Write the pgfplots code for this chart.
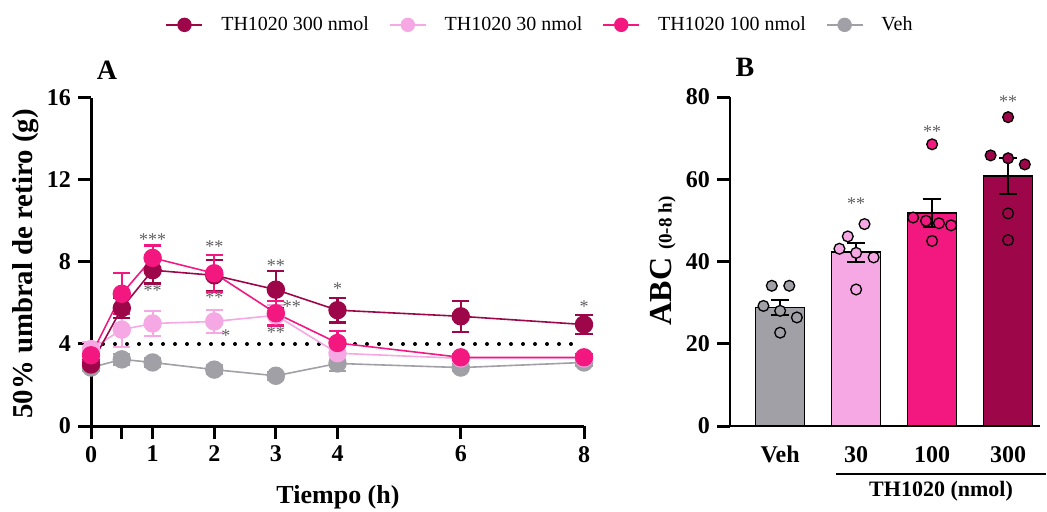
\documentclass[border=0pt]{standalone}
\usepackage{fontspec}
\setmainfont{Liberation Serif}
\usepackage{pgfplots}
\pgfplotsset{compat=1.18}

\definecolor{cHi}{RGB}{158,6,74}
\definecolor{cLo}{RGB}{245,168,228}
\definecolor{cMid}{RGB}{243,24,128}
\definecolor{cVeh}{RGB}{160,160,166}
\definecolor{cStar}{RGB}{95,95,95}

\pgfplotsset{
  ser/.style={color=#1, line width=0.8pt, mark=*, mark size=4.2pt,
    mark options={solid, fill=#1, draw=#1},
    /pgfplots/error bars/y dir=both, /pgfplots/error bars/y explicit,
    /pgfplots/error bars/error bar style={line width=1.1pt, color=#1},
    /pgfplots/error bars/error mark options={rotate=90, mark size=4.3pt, line width=1.1pt, color=#1}},
  dots/.style={only marks, mark=*, mark size=2.7pt, mark options={fill=#1, draw=black, line width=0.65pt}},
  gpad/.style={
    scale only axis, clip=false,
    axis lines=left, axis line style={-, line width=1.5pt},
    tick align=outside, major tick length=6.5pt,
    every tick/.style={black, line width=1.5pt},
    tick label style={font=\bfseries\fontsize{12}{12}\selectfont},
    /pgf/number format/assume math mode=true,
  },
}
\tikzset{starlab/.style={font=\fontsize{9}{9}\selectfont, text=cStar, inner sep=0pt}}

\begin{document}
\begin{tikzpicture}
\path[use as bounding box] (0,0) rectangle (523.5pt,-256pt);

% ---------- panel A ----------
\begin{axis}[gpad,
  at={(45.5pt,-213pt)}, anchor=south west,
  width=246.5pt, height=164pt,
  xmin=0, xmax=8, ymin=0, ymax=16,
  ytick={0,4,8,12,16},
  xtick={0,0.5,1,2,3,4,6,8}, xticklabels={0,,1,2,3,4,6,8},
  legend style={at={(0.913,1.223)}, anchor=center, draw=none, fill=none,
    legend columns=4, font=\fontsize{10}{12}\selectfont,
    /tikz/every odd column/.append style={column sep=7pt},
    /tikz/every even column/.append style={column sep=8pt}},
  legend image code/.code={\draw[mark repeat=2, mark phase=2, #1, mark size=3.2pt]
    plot coordinates {(0pt,0pt) (9pt,0pt) (18pt,0pt)};},
]
\addplot[forget plot, line width=2pt, dash pattern=on 0pt off 6pt, line cap=round]
  coordinates {(0,4) (7.94,4)};

\addplot[ser=cVeh, forget plot] coordinates {
  (0,2.85) +- (0,0.15) (0.5,3.25) +- (0,0.25) (1,3.1) +- (0,0.2)
  (2,2.75) +- (0,0.2) (3,2.45) +- (0,0.2) (4,3.05) +- (0,0.35)
  (6,2.85) +- (0,0.15) (8,3.1) +- (0,0.15)};
\addplot[ser=cLo, forget plot] coordinates {
  (0,3.75) +- (0,0.35) (0.5,4.7) +- (0,0.85) (1,5.0) +- (0,0.6)
  (2,5.1) +- (0,0.55) (3,5.4) +- (0,0.5) (4,3.55) +- (0,0.3)
  (6,3.3) +- (0,0.15) (8,3.3) +- (0,0.15)};
\addplot[ser=cHi, forget plot] coordinates {
  (0,3.0) +- (0,0.2) (0.5,5.75) +- (0,0.5) (1,7.6) +- (0,0.65)
  (2,7.35) +- (0,0.75) (3,6.65) +- (0,0.9) (4,5.65) +- (0,0.6)
  (6,5.35) +- (0,0.75) (8,4.95) +- (0,0.45)};
\addplot[ser=cMid, forget plot] coordinates {
  (0,3.45) +- (0,0.3) (0.5,6.45) +- (0,1.0) (1,8.2) +- (0,0.6)
  (2,7.45) +- (0,0.9) (3,5.5) +- (0,0.6) (4,4.05) +- (0,0.6)
  (6,3.35) +- (0,0.15) (8,3.35) +- (0,0.15)};

\addlegendimage{color=cHi, line width=0.8pt, mark=*, mark options={fill=cHi}}
\addlegendentry{TH1020 300 nmol}
\addlegendimage{color=cLo, line width=0.8pt, mark=*, mark options={fill=cLo}}
\addlegendentry{TH1020 30 nmol}
\addlegendimage{color=cMid, line width=0.8pt, mark=*, mark options={fill=cMid}}
\addlegendentry{TH1020 100 nmol}
\addlegendimage{color=cVeh, line width=0.8pt, mark=*, mark options={fill=cVeh}}
\addlegendentry{Veh}

\node[starlab] at (axis cs:1,9.1) {***};
\node[starlab] at (axis cs:1,6.6) {**};
\node[starlab] at (axis cs:2,8.75) {**};
\node[starlab] at (axis cs:2,6.25) {**};
\node[starlab] at (axis cs:2.19,4.4) {*};
\node[starlab] at (axis cs:3,7.8) {**};
\node[starlab] at (axis cs:3.26,5.8) {**};
\node[starlab] at (axis cs:3,4.55) {**};
\node[starlab] at (axis cs:4,6.7) {*};
\node[starlab] at (axis cs:8,5.8) {*};
\end{axis}

% ---------- panel B ----------
\begin{axis}[gpad,
  at={(365pt,-213pt)}, anchor=south west,
  width=155pt, height=164.5pt,
  xmin=-0.66, xmax=3.42, ymin=0, ymax=80,
  ytick={0,20,40,60,80},
  xtick={0,1,2,3}, xticklabels={Veh,30,100,300},
  x tick style={draw=none},
  axis line style={-, line width=1.25pt},
]
\addplot[ybar, bar width=24.5pt, bar shift=0pt, fill=cVeh, draw=black, line width=0.7pt] coordinates {(0,28.8)};
\addplot[ybar, bar width=24.5pt, bar shift=0pt, fill=cLo, draw=black, line width=0.7pt] coordinates {(1,42.3)};
\addplot[ybar, bar width=24.5pt, bar shift=0pt, fill=cMid, draw=black, line width=0.7pt] coordinates {(2,51.8)};
\addplot[ybar, bar width=24.5pt, bar shift=0pt, fill=cHi, draw=black, line width=0.7pt] coordinates {(3,60.8)};

\addplot[dots=cVeh] coordinates {(-0.11,34.1) (0.12,34.1) (-0.22,29.2) (0,28.0) (0.22,26.4) (0,22.7)};
\addplot[dots=cLo] coordinates {(0.89,46.1) (1.11,49.1) (0.78,43.1) (1,42.1) (1.23,41.0) (1,33.2)};
\addplot[dots=cMid] coordinates {(2,68.5) (1.75,50.7) (1.92,49.9) (2.09,49.3) (2.25,48.8) (2,45.0)};
\addplot[dots=cHi] coordinates {(3,75.1) (2.77,65.8) (3,65.1) (3.22,63.6) (3,51.7) (3,45.2)};

\addplot[draw=none, mark=none, error bars/.cd, y dir=both, y explicit,
  error bar style={draw=black, line width=1pt},
  error mark options={rotate=90, mark size=4.5pt, draw=black, line width=1pt}]
  coordinates {(0,28.8) +- (0,1.9) (1,42.3) +- (0,2.3) (2,51.8) +- (0,3.4) (3,60.8) +- (0,4.4)};

\node[starlab] at (axis cs:1,54) {**};
\node[starlab] at (axis cs:2,71.5) {**};
\node[starlab] at (axis cs:3,78.8) {**};
\end{axis}

% ---------- labels ----------
\node[rotate=90, font=\bfseries\fontsize{14.4}{14.4}\selectfont] at (13pt,-132pt) {50\% umbral de retiro (g)};
\node[font=\bfseries\fontsize{13}{13}\selectfont] at (169pt,-248.5pt) {Tiempo (h)};
\node[rotate=90] at (331.5pt,-130.5pt) {\bfseries\fontsize{16}{16}\selectfont ABC \fontsize{9.5}{9.5}\selectfont(0-8 h)};
\node[font=\bfseries\fontsize{14}{14}\selectfont] at (53.5pt,-35pt) {A};
\node[font=\bfseries\fontsize{14}{14}\selectfont] at (372.5pt,-33.5pt) {B};
\draw[line width=0.8pt] (418pt,-237pt) -- (523pt,-237pt);
\node[font=\bfseries\fontsize{11}{11}\selectfont] at (470.5pt,-245.5pt) {TH1020 (nmol)};
\end{tikzpicture}
\end{document}
